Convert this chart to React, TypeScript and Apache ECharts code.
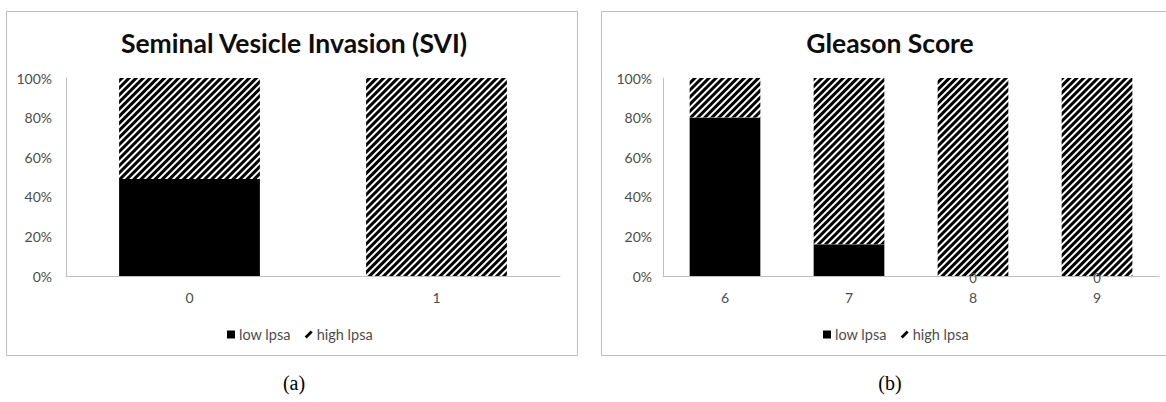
import React, { useEffect, useRef } from "react";
import * as echarts from "echarts";

const svCategories = ["0", "1"];
const svLow = [49, 0];
const svHigh = [51, 100];

const gsCategories = ["6", "7", "8", "9"];
const gsLow = [80, 16, 0, 0];
const gsHigh = [20, 84, 100, 100];

const yTicks = [0, 20, 40, 60, 80, 100];
const seriesNames = ["low lpsa", "high lpsa"];
const titles = ["Seminal Vesicle Invasion (SVI)", "Gleason Score"];
const captions = ["(a)", "(b)"];

const FONT = "Lato, 'Open Sans', sans-serif";
const GRAY = "#4d4d4d";
const AXIS = "#BFBFBF";

const hatch = {
  symbol: "rect",
  symbolSize: 1,
  dashArrayX: [1, 0],
  dashArrayY: [2.3, 1.8],
  rotation: -Math.PI / 4,
  color: "#000",
  backgroundColor: "#fff",
};

export default function App() {
  const ref = useRef<HTMLDivElement>(null);
  useEffect(() => {
    document.body.style.margin = "0";
    const chart = echarts.init(ref.current!, null, { renderer: "svg" });
    const grids = [
      { left: 66, top: 78, width: 494, height: 198 },
      { left: 663, top: 78, width: 496, height: 198 },
    ];
    const cats = [svCategories, gsCategories];
    const lows = [svLow, gsLow];
    const highs = [svHigh, gsHigh];
    const legendLefts = [222, 818];
    const titleX = [294, 890];

    const xAxes = cats.map((c, i) => ({
      type: "category",
      gridIndex: i,
      data: c,
      axisLine: { lineStyle: { color: AXIS, width: 1 } },
      axisTick: { show: false },
      axisLabel: { color: GRAY, fontSize: 14, fontFamily: FONT, margin: 14 },
    }));
    const yAxes = cats.map((_c, i) => ({
      type: "value",
      gridIndex: i,
      min: yTicks[0],
      max: yTicks[yTicks.length - 1],
      interval: 20,
      axisLine: { show: true, lineStyle: { color: AXIS, width: 1 } },
      axisTick: { show: false },
      splitLine: { show: false },
      axisLabel: {
        color: GRAY,
        fontSize: 14,
        fontFamily: FONT,
        margin: i === 0 ? 14 : 11,
        formatter: "{value}%",
      },
    }));
    const series: any[] = [];
    cats.forEach((_c, i) => {
      series.push({
        name: seriesNames[0],
        type: "bar",
        stack: "s" + i,
        xAxisIndex: i,
        yAxisIndex: i,
        barWidth: "57%",
        itemStyle: { color: "#000" },
        data: lows[i].map((v) =>
          i === 1 && v === 0
            ? {
                value: v,
                label: {
                  show: true,
                  position: "inside",
                  color: GRAY,
                  fontSize: 13,
                  fontFamily: FONT,
                  offset: [0, 2],
                },
              }
            : v
        ),
      });
      series.push({
        name: seriesNames[1],
        type: "bar",
        stack: "s" + i,
        xAxisIndex: i,
        yAxisIndex: i,
        barWidth: "57%",
        itemStyle: { color: "#fff", decal: hatch },
        data: highs[i],
      });
    });

    const legends = legendLefts.map((l) => ({
      left: l,
      top: 322,
      itemWidth: 8,
      itemHeight: 8,
      itemGap: 14,
      textStyle: { color: GRAY, fontSize: 14.5, fontFamily: FONT, padding: [0, 0, 0, -1] },
      selectedMode: false,
      data: [
        { name: seriesNames[0], icon: "rect", itemStyle: { color: "#000" } },
        {
          name: seriesNames[1],
          icon: "path://M0,8 L6,2 L8,4 L2,10 Z",
          itemStyle: { color: "#000", decal: "none" },
        },
      ],
    }));

    const graphic: any[] = [
      {
        type: "rect",
        shape: { x: 6.5, y: 11.5, width: 571, height: 344 },
        style: { fill: "none", stroke: AXIS, lineWidth: 1 },
        silent: true,
      },
      {
        type: "rect",
        shape: { x: 601.5, y: 11.5, width: 600, height: 344 },
        style: { fill: "none", stroke: AXIS, lineWidth: 1 },
        silent: true,
      },
    ];
    titles.forEach((t, i) => {
      graphic.push({
        type: "text",
        x: titleX[i],
        y: 43,
        style: {
          text: t,
          fill: "#0d0d0d",
          font: `bold 26.5px ${FONT}`,
          textAlign: "center",
          textVerticalAlign: "middle",
        },
      });
      graphic.push({
        type: "text",
        x: titleX[i],
        y: 383,
        style: {
          text: captions[i],
          fill: "#000",
          font: "20px 'Liberation Serif', 'DejaVu Serif', serif",
          textAlign: "center",
          textVerticalAlign: "middle",
        },
      });
    });

    chart.setOption({
      animation: false,
      backgroundColor: "#fff",
      grid: grids,
      xAxis: xAxes,
      yAxis: yAxes,
      legend: legends,
      series,
      graphic,
    });
    return () => chart.dispose();
  }, []);
  return <div ref={ref} style={{ width: 1166, height: 402 }} />;
}
